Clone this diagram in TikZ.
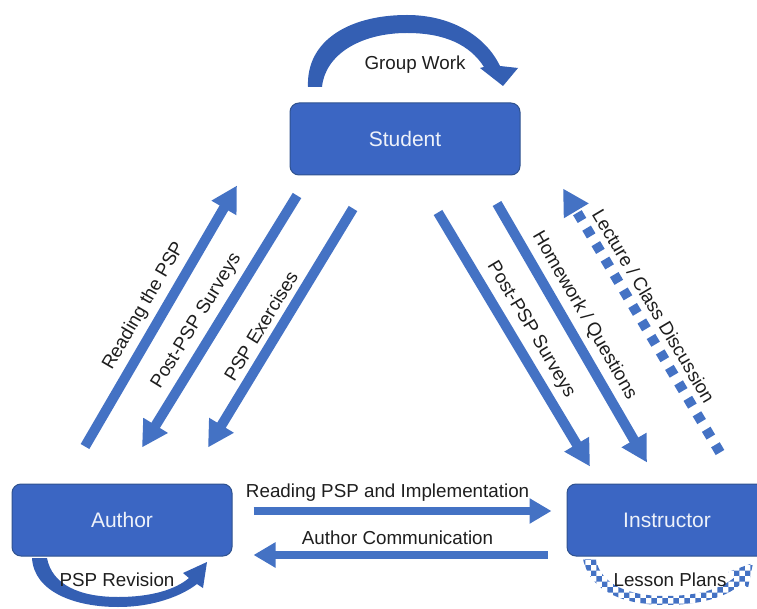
\documentclass[tikz,border=0pt]{standalone}
\usepackage{fontspec}
\setmainfont{Liberation Sans}
\usetikzlibrary{arrows.meta, calc, patterns}
\definecolor{cBox}{HTML}{3B66C3}
\definecolor{cEdge}{HTML}{2F528F}
\definecolor{cArrow}{HTML}{4472C4}
\definecolor{cArc}{HTML}{345FB3}
\definecolor{cInk}{HTML}{1E1E1E}
\definecolor{cPale}{HTML}{EEF2FA}
\newcommand{\boxfont}{\fontsize{21}{24}\selectfont}
\newcommand{\lblfont}{\fontsize{18.8}{22}\selectfont}
\tikzset{
  actor/.style={draw=cEdge, line width=1pt, rounded corners=9pt, fill=cBox,
      text=cPale, font=\boxfont, minimum height=72pt, inner sep=0pt},
  flowarrow/.style={draw=cArrow, line width=10pt, -{Triangle[length=26pt,width=27pt]}},
  sidearrow/.style={draw=cArrow, line width=8pt, -{Triangle[length=22pt,width=24pt]}},
  dotarrow/.style={flowarrow, dash pattern=on 9pt off 9pt},
  lbl/.style={font=\lblfont, text=cInk, inner sep=2pt},
}

\begin{document}
\begin{tikzpicture}[x=1pt, y=-1pt]
\useasboundingbox (0,0) rectangle (757,609);

% ===================== actors =====================
\node[actor, minimum width=230pt] (student) at (405,139) {Student};
\node[actor, minimum width=220pt] (author) at (122,520) {Author};
\node[actor, minimum width=200pt] (instructor) at (667,520) {Instructor};

% ===================== self loops =====================
\fill[cArc] (308,87) .. controls (306,40) and (350,15) .. (407,15)
     .. controls (450,15) and (485,35) .. (500,66) -- (518,68) -- (503,86) -- (480,68) -- (484,67)
     .. controls (470,45) and (445,33) .. (407,33)
     .. controls (360,33) and (325,55) .. (322,87) -- cycle;
\node[lbl] (gw) at (415,65) {Group Work};

\fill[cArc] (32,558) .. controls (34,592) and (75,607) .. (118,607)
     .. controls (155,607) and (183,595) .. (197,584) -- (203,588) -- (207,562) -- (183,573) -- (189,578)
     .. controls (175,590) and (150,597) .. (118,597)
     .. controls (80,597) and (52,585) .. (47,558) -- cycle;
\node[lbl] (rev) at (117,580) {PSP Revision};

\fill[pattern=checkerboard, pattern color=cArrow] (583,559) .. controls (590,592) and (625,605) .. (665,605)
     .. controls (705,605) and (730,595) .. (742,583) -- (748,588) -- (753,563) -- (728,572) -- (735,577)
     .. controls (722,588) and (700,596) .. (665,596)
     .. controls (630,596) and (600,585) .. (596,559) -- cycle;
\node[lbl] (plans) at (670,580) {Lesson Plans};

% ===================== author <-> student =====================
\draw[flowarrow] ([shift={(-37,-37)}]author.north) -- node[lbl, sloped, above=4pt] {Reading the PSP}
     ([shift={(-168,10)}]student.south);
\draw[flowarrow] ([shift={(-108,20)}]student.south) -- node[lbl, sloped, above=4pt, pos=0.54] {Post-PSP Surveys}
     ([shift={(20,-36)}]author.north);
\draw[flowarrow] ([shift={(-52,33)}]student.south) -- node[lbl, sloped, above=4pt, pos=0.53] {PSP Exercises}
     ([shift={(86,-36)}]author.north);

% ===================== student <-> instructor =====================
\draw[flowarrow] ([shift={(33,37)}]student.south) -- node[lbl, sloped, above=4pt, pos=0.5] {Post-PSP Surveys}
     ([shift={(-77,-17)}]instructor.north);
\draw[flowarrow] ([shift={(92,28)}]student.south) -- node[lbl, sloped, above=4pt, pos=0.47] {Homework / Questions}
     ([shift={(-20,-21)}]instructor.north);
\draw[dotarrow] ([shift={(53,-31)}]instructor.north) -- node[lbl, sloped, above=4pt, pos=0.52] {Lecture / Class Discussion}
     ([shift={(158,13)}]student.south);

% ===================== author <-> instructor =====================
\draw[sidearrow] ([shift={(21,-9)}]author.east) -- node[lbl, above=4pt, pos=0.45] {Reading PSP and Implementation}
     ([shift={(-15,-9)}]instructor.west);
\draw[sidearrow] ([shift={(-19,35)}]instructor.west) -- node[lbl, above=4pt, pos=0.51] {Author Communication}
     ([shift={(21,35)}]author.east);

\end{tikzpicture}
\end{document}
